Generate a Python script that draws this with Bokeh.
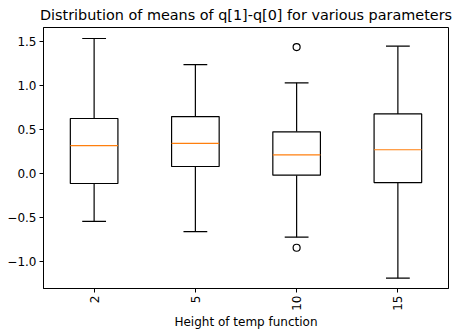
import math
from bokeh.plotting import figure
from bokeh.models import FixedTicker, ColumnDataSource
from bokeh.embed import file_html
from bokeh.resources import INLINE

categories = ["2", "5", "10", "15"]
positions = [1, 2, 3, 4]
q1 = [-0.11, 0.083, -0.016, -0.10]
median = [0.32, 0.345, 0.216, 0.273]
q3 = [0.628, 0.65, 0.477, 0.68]
whisker_lo = [-0.54, -0.656, -0.72, -1.186]
whisker_hi = [1.537, 1.24, 1.034, 1.45]
outlier_x = [3, 3]
outlier_y = [1.44, -0.84]

box_w = 0.47
cap_w = box_w / 2

src = ColumnDataSource(dict(
    x=positions, q1=q1, med=median, q3=q3, lo=whisker_lo, hi=whisker_hi,
    left=[x - box_w / 2 for x in positions], right=[x + box_w / 2 for x in positions],
    cl=[x - cap_w / 2 for x in positions], cr=[x + cap_w / 2 for x in positions],
))

p = figure(frame_width=405, frame_height=261, output_backend="svg", toolbar_location=None,
           x_range=(0.5, 4.5), y_range=(-1.303, 1.662),
           title="Distribution of means of q[1]-q[0] for various parameters",
           min_border_left=43, min_border_right=8, min_border_top=27, min_border_bottom=34)

p.title.text_font = "DejaVu Sans"
p.title.text_font_size = "14.4px"
p.title.text_font_style = "normal"
p.title.align = "center"
p.title.text_color = "black"
p.title.standoff = 9

p.xgrid.visible = False
p.ygrid.visible = False
p.outline_line_color = "black"
p.outline_line_width = 1
p.background_fill_color = "white"
p.border_fill_color = "white"

# whiskers
p.segment(x0="x", y0="q3", x1="x", y1="hi", source=src, line_color="black", line_width=1.2)
p.segment(x0="x", y0="lo", x1="x", y1="q1", source=src, line_color="black", line_width=1.2)
# caps
p.segment(x0="cl", y0="hi", x1="cr", y1="hi", source=src, line_color="black", line_width=1.2)
p.segment(x0="cl", y0="lo", x1="cr", y1="lo", source=src, line_color="black", line_width=1.2)
# boxes
p.quad(left="left", right="right", bottom="q1", top="q3", source=src,
       fill_color="white", line_color="black", line_width=1.2)
# medians
p.segment(x0="left", y0="med", x1="right", y1="med", source=src, line_color="#ff7f0e", line_width=1.2)
# outliers
p.scatter(outlier_x, outlier_y, marker="circle", size=7, fill_color=None,
          line_color="black", line_width=1.2)

p.xaxis.ticker = FixedTicker(ticks=positions)
p.xaxis.major_label_overrides = {pos: lab for pos, lab in zip(positions, categories)}
p.xaxis.major_label_orientation = math.pi / 2
p.xaxis.axis_label = "Height of temp function"
p.yaxis.ticker = FixedTicker(ticks=[-1.0, -0.5, 0.0, 0.5, 1.0, 1.5])
p.yaxis.major_label_overrides = {-1.0: "−1.0", -0.5: "−0.5", 0.0: "0.0", 0.5: "0.5", 1.0: "1.0", 1.5: "1.5"}

for ax in (p.xaxis[0], p.yaxis[0]):
    ax.minor_tick_line_color = None
    ax.major_tick_in = 0
    ax.major_tick_out = 4
    ax.major_tick_line_color = "black"
    ax.axis_line_color = "black"
    ax.major_label_text_font = "DejaVu Sans"
    ax.major_label_text_font_size = "12px"
    ax.major_label_text_color = "black"
    ax.major_label_standoff = 3
    ax.axis_label_text_font = "DejaVu Sans"
    ax.axis_label_text_font_size = "12px"
    ax.axis_label_text_font_style = "normal"
    ax.axis_label_text_color = "black"
    ax.axis_label_standoff = 1

open("out.html", "w").write(file_html(p, INLINE))
